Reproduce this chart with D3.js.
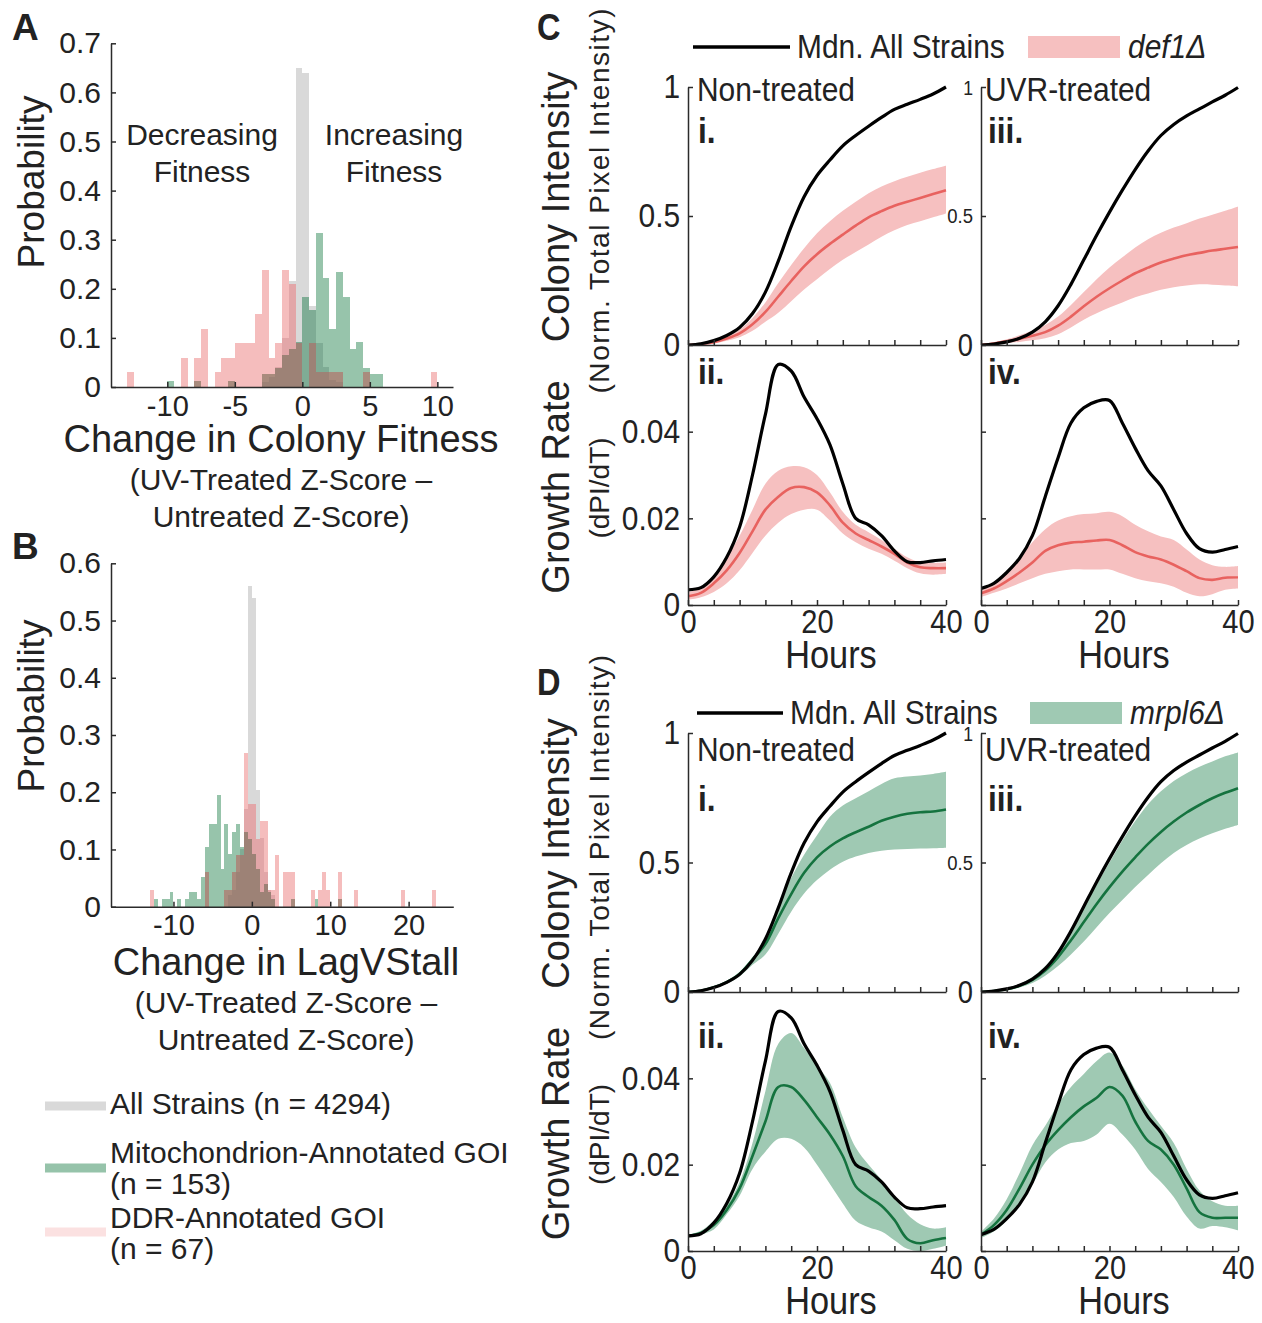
<!DOCTYPE html>
<html>
<head>
<meta charset="utf-8">
<script src="https://cdn.jsdelivr.net/npm/d3@7"></script>
<style>
body { margin: 0; background: #fff; }
svg text { font-family: 'Liberation Sans', Arial, sans-serif; fill: #222; }
</style>
</head>
<body>
<svg id="fig" width="1262" height="1323"></svg>
<script>
// ---------- histogram data (bin start, probability) ----------
var BW = 0.5;
var aAllStart = [-3, -2.5, -2, -1.5, -1, -0.5, 0, 0.5, 1, 1.5, 2, 2.5];
var aAllProb  = [0.01, 0.02, 0.04, 0.10, 0.215, 0.65, 0.64, 0.165, 0.09, 0.04, 0.015, 0.01];
var aMitoStart = [-10, -8, -5.5, -3, -2.5, -2, -1.5, -1, -0.5, 0, 0.5, 1, 1.5, 2, 2.5, 3, 3.5, 4, 4.5, 5, 5.5];
var aMitoProb  = [0.013, 0.013, 0.013, 0.026, 0.026, 0.039, 0.065, 0.078, 0.092, 0.183, 0.157, 0.314, 0.222, 0.118, 0.235, 0.183, 0.078, 0.092, 0.039, 0.026, 0.026];
var aDdrStart = [-13, -9, -8, -7.5, -6.5, -6, -5.5, -5, -4.5, -4, -3.5, -3, -2.5, -2, -1.5, -1, -0.5, 0.5, 1, 1.5, 2, 2.5, 4.5, 9.5];
var aDdrProb  = [0.03, 0.06, 0.06, 0.119, 0.03, 0.06, 0.06, 0.09, 0.09, 0.09, 0.149, 0.239, 0.06, 0.09, 0.239, 0.209, 0.09, 0.09, 0.03, 0.03, 0.03, 0.03, 0.03, 0.03];

var bAllStart = [-3, -2.5, -2, -1.5, -1, -0.5, 0, 0.5, 1, 1.5, 2, 2.5];
var bAllProb  = [0.02, 0.03, 0.06, 0.10, 0.17, 0.56, 0.54, 0.204, 0.12, 0.06, 0.03, 0.02];
var bMitoStart = [-12.5, -11.5, -11, -10.5, -9.5, -8.5, -8, -7.5, -7, -6.5, -6, -5.5, -5, -4.5, -4, -3.5, -3, -2.5, -2, -1.5, -1, -0.5, 0, 0.5, 1, 1.5, 2, 2.5, 5, 8, 11];
var bMitoProb  = [0.013, 0.013, 0.013, 0.026, 0.013, 0.013, 0.026, 0.026, 0.013, 0.052, 0.105, 0.144, 0.144, 0.196, 0.065, 0.144, 0.092, 0.131, 0.144, 0.105, 0.131, 0.118, 0.092, 0.065, 0.026, 0.039, 0.026, 0.013, 0.013, 0.013, 0.013];
var bDdrStart = [-13, -6, -3.5, -3, -2.5, -2, -1.5, -1, -0.5, 0, 0.5, 1, 1.5, 2, 2.5, 3, 4, 4.5, 5, 7.5, 8.5, 9, 9.5, 11, 13, 19, 23];
var bDdrProb  = [0.03, 0.06, 0.03, 0.03, 0.06, 0.09, 0.09, 0.269, 0.179, 0.179, 0.119, 0.149, 0.149, 0.03, 0.03, 0.09, 0.06, 0.06, 0.06, 0.03, 0.03, 0.06, 0.03, 0.06, 0.03, 0.03, 0.03];

// ---------- growth curve data ----------
var hours = [0, 2, 4, 6, 8, 10, 12, 14, 16, 18, 20, 22, 24, 26, 28, 30, 32, 34, 36, 38, 40];

var mdnNTci = [0, 0.005, 0.017, 0.037, 0.068, 0.122, 0.205, 0.325, 0.46, 0.575, 0.657, 0.717, 0.772, 0.812, 0.848, 0.882, 0.913, 0.933, 0.952, 0.973, 1.0];
var mdnUVci = [0, 0.004, 0.012, 0.026, 0.05, 0.09, 0.152, 0.235, 0.33, 0.425, 0.515, 0.6, 0.68, 0.752, 0.812, 0.855, 0.888, 0.915, 0.942, 0.968, 0.998];
var mdnNTgr = [0.0035, 0.004, 0.0065, 0.011, 0.018, 0.030, 0.044, 0.0555, 0.054, 0.048, 0.043, 0.037, 0.028, 0.020, 0.0185, 0.016, 0.0125, 0.010, 0.0098, 0.0102, 0.0105];
var mdnUVgr = [0.0038, 0.005, 0.0075, 0.0108, 0.016, 0.025, 0.034, 0.042, 0.0455, 0.047, 0.0472, 0.042, 0.0362, 0.031, 0.0275, 0.022, 0.0165, 0.013, 0.0122, 0.0128, 0.0135];

var def1NTci   = [0, 0.004, 0.011, 0.025, 0.045, 0.08, 0.128, 0.188, 0.248, 0.305, 0.352, 0.392, 0.428, 0.463, 0.495, 0.519, 0.54, 0.555, 0.57, 0.585, 0.6];
var def1NTciHi = [0.001, 0.006, 0.016, 0.034, 0.06, 0.105, 0.165, 0.24, 0.31, 0.375, 0.433, 0.48, 0.52, 0.555, 0.588, 0.614, 0.635, 0.652, 0.668, 0.682, 0.695];
var def1NTciLo = [0, 0.002, 0.006, 0.016, 0.03, 0.055, 0.09, 0.125, 0.17, 0.215, 0.255, 0.295, 0.33, 0.36, 0.39, 0.42, 0.445, 0.465, 0.48, 0.495, 0.51];
var def1UVci   = [0, 0.006, 0.014, 0.024, 0.036, 0.05, 0.075, 0.11, 0.15, 0.187, 0.22, 0.25, 0.278, 0.3, 0.32, 0.335, 0.348, 0.357, 0.366, 0.373, 0.38];
var def1UVciHi = [0.003, 0.01, 0.022, 0.038, 0.056, 0.078, 0.11, 0.155, 0.205, 0.255, 0.3, 0.34, 0.378, 0.41, 0.435, 0.455, 0.472, 0.49, 0.505, 0.52, 0.537];
var def1UVciLo = [0, 0.003, 0.007, 0.012, 0.018, 0.026, 0.042, 0.068, 0.098, 0.123, 0.145, 0.165, 0.185, 0.2, 0.214, 0.224, 0.231, 0.235, 0.234, 0.231, 0.228];
var def1NTgr   = [0.002, 0.0028, 0.005, 0.008, 0.012, 0.017, 0.022, 0.025, 0.027, 0.0272, 0.026, 0.023, 0.019, 0.0165, 0.015, 0.0135, 0.0118, 0.0098, 0.0087, 0.0085, 0.0085];
var def1NTgrHi = [0.003, 0.004, 0.007, 0.011, 0.016, 0.022, 0.028, 0.031, 0.032, 0.0318, 0.030, 0.026, 0.0215, 0.0185, 0.0168, 0.015, 0.013, 0.011, 0.0098, 0.0097, 0.0098];
var def1NTgrLo = [0.0012, 0.0018, 0.003, 0.005, 0.008, 0.012, 0.016, 0.019, 0.021, 0.022, 0.022, 0.0195, 0.0165, 0.0145, 0.013, 0.0118, 0.0102, 0.0085, 0.0073, 0.007, 0.0072];
var def1UVgr   = [0.0027, 0.0038, 0.0055, 0.0075, 0.0098, 0.0125, 0.0138, 0.0144, 0.0146, 0.0149, 0.015, 0.0138, 0.0122, 0.0112, 0.0105, 0.0093, 0.0078, 0.0062, 0.0058, 0.0063, 0.0064];
var def1UVgrHi = [0.0035, 0.0048, 0.0075, 0.011, 0.0145, 0.0175, 0.0195, 0.0205, 0.021, 0.0212, 0.0215, 0.0205, 0.0185, 0.017, 0.0158, 0.015, 0.0128, 0.0105, 0.0092, 0.0088, 0.009];
var def1UVgrLo = [0.0018, 0.0028, 0.0038, 0.005, 0.0062, 0.0072, 0.0078, 0.0082, 0.0082, 0.0082, 0.0082, 0.0072, 0.0062, 0.0055, 0.005, 0.0042, 0.0028, 0.002, 0.0025, 0.0035, 0.0038];

var mrpl6NTci   = [0, 0.005, 0.018, 0.038, 0.07, 0.125, 0.185, 0.285, 0.378, 0.46, 0.52, 0.562, 0.593, 0.617, 0.638, 0.661, 0.677, 0.688, 0.694, 0.697, 0.705];
var mrpl6NTciHi = [0.001, 0.007, 0.021, 0.043, 0.078, 0.135, 0.205, 0.335, 0.44, 0.53, 0.605, 0.677, 0.72, 0.748, 0.775, 0.803, 0.825, 0.832, 0.836, 0.842, 0.85];
var mrpl6NTciLo = [0, 0.003, 0.014, 0.032, 0.06, 0.105, 0.145, 0.225, 0.31, 0.38, 0.432, 0.472, 0.503, 0.523, 0.537, 0.545, 0.55, 0.552, 0.554, 0.555, 0.557];
var mrpl6UVci   = [0, 0.004, 0.011, 0.024, 0.047, 0.083, 0.135, 0.2, 0.27, 0.34, 0.405, 0.465, 0.52, 0.572, 0.618, 0.658, 0.693, 0.722, 0.748, 0.769, 0.787];
var mrpl6UVciHi = [0.001, 0.006, 0.015, 0.031, 0.058, 0.1, 0.16, 0.235, 0.325, 0.415, 0.5, 0.585, 0.66, 0.725, 0.775, 0.815, 0.845, 0.87, 0.89, 0.91, 0.925];
var mrpl6UVciLo = [0, 0.002, 0.007, 0.017, 0.035, 0.063, 0.1, 0.145, 0.195, 0.25, 0.305, 0.355, 0.405, 0.452, 0.497, 0.537, 0.568, 0.593, 0.613, 0.63, 0.645];
var mrpl6NTgr   = [0.0035, 0.0042, 0.006, 0.0095, 0.0145, 0.022, 0.030, 0.038, 0.038, 0.035, 0.031, 0.027, 0.022, 0.015, 0.0125, 0.0105, 0.0072, 0.0028, 0.0018, 0.0025, 0.003];
var mrpl6NTgrHi = [0.0038, 0.0047, 0.007, 0.0105, 0.016, 0.025, 0.037, 0.048, 0.0505, 0.047, 0.043, 0.039, 0.031, 0.024, 0.02, 0.0165, 0.0125, 0.0085, 0.0062, 0.0052, 0.0055];
var mrpl6NTgrLo = [0.003, 0.0038, 0.005, 0.0085, 0.0128, 0.019, 0.023, 0.026, 0.026, 0.024, 0.020, 0.0155, 0.011, 0.007, 0.0055, 0.0045, 0.0025, 0.0005, 0, 0.0005, 0.0012];
var mrpl6UVgr   = [0.0038, 0.006, 0.0095, 0.0145, 0.02, 0.0245, 0.028, 0.031, 0.0335, 0.0355, 0.038, 0.036, 0.030, 0.0255, 0.0235, 0.02, 0.0145, 0.009, 0.0077, 0.0077, 0.0077];
var mrpl6UVgrHi = [0.0045, 0.0075, 0.012, 0.018, 0.0245, 0.029, 0.034, 0.038, 0.041, 0.044, 0.046, 0.043, 0.0375, 0.033, 0.029, 0.025, 0.019, 0.014, 0.0115, 0.0105, 0.0105];
var mrpl6UVgrLo = [0.003, 0.0045, 0.007, 0.011, 0.0155, 0.0205, 0.0235, 0.025, 0.0255, 0.027, 0.0295, 0.027, 0.0235, 0.019, 0.016, 0.0125, 0.008, 0.0052, 0.0058, 0.0055, 0.0048];

// ---------- drawing ----------
var svg = d3.select("#fig");
var AX = "#2b2b2b";
// fill colours for each combination of overlapping histogram series
var HC = {g: "#d9d9d9", m: "#97c4ab", d: "#f5bdbd", gm: "#7fac95", gd: "#e2a6a8", md: "#a98b7d", gmd: "#9d8276"};

function txt(x, y, s, o) {
  o = o || {};
  var tr = "translate(" + x + "," + y + ")";
  if (o.rot) tr += " rotate(" + o.rot + ")";
  if (o.sx) tr += " scale(" + o.sx + ",1)";
  var t = svg.append("text")
    .attr("transform", tr)
    .attr("font-size", o.size || 30)
    .attr("text-anchor", o.anchor || "start")
    .text(s);
  if (o.bold) t.attr("font-weight", "bold");
  if (o.italic) t.attr("font-style", "italic");
  if (o.len) t.attr("textLength", o.len).attr("lengthAdjust", "spacing");
  return t;
}

function styleAxis(g, size, sx) {
  g.selectAll("path, line").attr("stroke", AX).attr("stroke-width", 1.5);
  g.selectAll("text").attr("fill", "#222").attr("font-size", size)
    .attr("font-family", "'Liberation Sans', Arial, sans-serif");
  if (sx) g.selectAll("text").attr("transform", "scale(" + sx + ",1)");
}

function hist(p) {
  var x = d3.scaleLinear().domain(p.xDomain).range([p.left, p.right]);
  var y = d3.scaleLinear().domain([0, p.yMax]).range([p.bottom, p.top]);
  var bins = new Map();
  function put(starts, vals, key) {
    starts.forEach(function(s, i) {
      var b = bins.get(s) || {s: s, g: 0, m: 0, d: 0};
      b[key] = vals[i];
      bins.set(s, b);
    });
  }
  put(p.gS, p.gV, "g"); put(p.mS, p.mV, "m"); put(p.dS, p.dV, "d");
  var segs = [];
  bins.forEach(function(b) {
    var lv = Array.from(new Set([0, b.g, b.m, b.d])).sort(d3.ascending);
    for (var i = 0; i < lv.length - 1; i++) {
      var hi = lv[i + 1];
      var key = (b.g >= hi ? "g" : "") + (b.m >= hi ? "m" : "") + (b.d >= hi ? "d" : "");
      segs.push({s: b.s, lo: lv[i], hi: hi, key: key});
    }
  });
  svg.append("g").selectAll("rect").data(segs).enter().append("rect")
    .attr("x", function(d) { return x(d.s); })
    .attr("width", function(d) { return x(d.s + BW) - x(d.s); })
    .attr("y", function(d) { return y(d.hi); })
    .attr("height", function(d) { return y(d.lo) - y(d.hi); })
    .attr("fill", function(d) { return HC[d.key]; })
    .attr("shape-rendering", "crispEdges");

  var ya = svg.append("g").attr("transform", "translate(" + p.left + ",0)")
    .call(d3.axisLeft(y).tickValues(p.yTicks).tickSize(-5).tickSizeOuter(0).tickPadding(10)
      .tickFormat(function(d) { return d === 0 ? "0" : d3.format(".1f")(d); }));
  styleAxis(ya, 30);
  var xa = svg.append("g").attr("transform", "translate(0," + p.bottom + ")")
    .call(d3.axisBottom(x).tickValues(p.xTicks).tickSize(-5).tickSizeOuter(0).tickPadding(8)
      .tickFormat(function(d) { return String(d); }));
  styleAxis(xa, 29);
}

hist({left: 111, right: 453, top: 43.3, bottom: 387, xDomain: [-14.17, 11.16], yMax: 0.7,
  yTicks: [0, 0.1, 0.2, 0.3, 0.4, 0.5, 0.6, 0.7], xTicks: [-10, -5, 0, 5, 10],
  gS: aAllStart, gV: aAllProb, mS: aMitoStart, mV: aMitoProb, dS: aDdrStart, dV: aDdrProb});
hist({left: 111, right: 453.3, top: 563.3, bottom: 906.7, xDomain: [-17.97, 25.7], yMax: 0.6,
  yTicks: [0, 0.1, 0.2, 0.3, 0.4, 0.5, 0.6], xTicks: [-10, 0, 10, 20],
  gS: bAllStart, gV: bAllProb, mS: bMitoStart, mV: bMitoProb, dS: bDdrStart, dV: bDdrProb});

// panel A / B text
txt(12, 40, "A", {size: 37, bold: true});
txt(12, 559, "B", {size: 37, bold: true});
txt(44, 182, "Probability", {size: 37, rot: -90, anchor: "middle"});
txt(44, 706, "Probability", {size: 37, rot: -90, anchor: "middle"});
txt(202, 145, "Decreasing", {size: 30, anchor: "middle"});
txt(202, 182, "Fitness", {size: 30, anchor: "middle"});
txt(394, 145, "Increasing", {size: 30, anchor: "middle"});
txt(394, 182, "Fitness", {size: 30, anchor: "middle"});
txt(281, 452, "Change in Colony Fitness", {size: 38, anchor: "middle"});
txt(281, 490, "(UV-Treated Z-Score \u2013", {size: 30, anchor: "middle"});
txt(281, 527, "Untreated Z-Score)", {size: 30, anchor: "middle"});
txt(286, 975, "Change in LagVStall", {size: 38, anchor: "middle"});
txt(286, 1013, "(UV-Treated Z-Score \u2013", {size: 30, anchor: "middle"});
txt(286, 1050, "Untreated Z-Score)", {size: 30, anchor: "middle"});

// histogram legend
var legItems = [
  {c: "#d9d9d9", y: 1106, lines: ["All Strains (n = 4294)"], ty: 1114},
  {c: "#96c3aa", y: 1168, lines: ["Mitochondrion-Annotated GOI", "(n = 153)"], ty: 1163},
  {c: "#fbe1e1", y: 1232, lines: ["DDR-Annotated GOI", "(n = 67)"], ty: 1228}
];
legItems.forEach(function(it) {
  svg.append("line").attr("x1", 45).attr("x2", 106).attr("y1", it.y).attr("y2", it.y)
    .attr("stroke", it.c).attr("stroke-width", 9);
  it.lines.forEach(function(l, i) { txt(110, it.ty + i * 31, l, {size: 30}); });
});

// ---------- growth-curve panels ----------
var SX = 0.88;
var clipN = 0;
function curvePanel(p) {
  var x = d3.scaleLinear().domain([0, 40]).range([p.left, p.right]);
  var y = d3.scaleLinear().domain([0, p.yMax]).range([p.bottom, p.top]);
  var id = "clip" + (clipN++);
  svg.append("clipPath").attr("id", id).append("rect")
    .attr("x", p.left).attr("y", p.top - 3).attr("width", p.right - p.left + 2).attr("height", p.bottom - p.top + 3);
  var curve = d3.curveCatmullRom.alpha(0.5);
  var area = d3.area().curve(curve)
    .x(function(d, i) { return x(hours[i]); })
    .y0(function(d, i) { return y(p.lo[i]); })
    .y1(function(d, i) { return y(p.hi[i]); });
  var line = d3.line().curve(curve)
    .x(function(d, i) { return x(hours[i]); })
    .y(function(d) { return y(d); });
  var g = svg.append("g").attr("clip-path", "url(#" + id + ")");
  g.append("path").datum(p.mean).attr("d", area).attr("fill", p.band);
  g.append("path").datum(p.mean).attr("d", line).attr("fill", "none")
    .attr("stroke", p.color).attr("stroke-width", 2.6);
  g.append("path").datum(p.black).attr("d", line).attr("fill", "none")
    .attr("stroke", "#000").attr("stroke-width", 3.2);

  var ya = svg.append("g").attr("transform", "translate(" + p.left + ",0)")
    .call(d3.axisLeft(y).tickValues(p.yTicks).tickSize(-5).tickSizeOuter(0).tickPadding(9)
      .tickFormat(p.yLabels ? function(d) { return d === 0 ? "0" : String(d); } : ""));
  styleAxis(ya, 34, SX);
  var xa = svg.append("g").attr("transform", "translate(0," + p.bottom + ")")
    .call(d3.axisBottom(x).tickValues([0, 4, 8, 12, 16, 20, 24, 28, 32, 36, 40]).tickSize(-5)
      .tickSizeOuter(0).tickPadding(5)
      .tickFormat(p.xLabels ? function(d) { return d % 20 === 0 ? String(d) : ""; } : ""));
  styleAxis(xa, 33, SX);
  return y;
}

function figure(o) {
  var cols = [
    {left: 688, right: 946, ci: o.ntCi, gr: o.ntGr, blackCi: mdnNTci, blackGr: mdnNTgr, labels: true},
    {left: 981, right: 1238, ci: o.uvCi, gr: o.uvGr, blackCi: mdnUVci, blackGr: mdnUVgr, labels: false}
  ];
  cols.forEach(function(c) {
    var yci = curvePanel({left: c.left, right: c.right, top: o.top, bottom: o.mid, yMax: 1,
      mean: c.ci[0], lo: c.ci[1], hi: c.ci[2], black: c.blackCi, band: o.band, color: o.color,
      yTicks: [0, 0.5, 1], yLabels: c.labels, xLabels: false});
    curvePanel({left: c.left, right: c.right, top: o.mid, bottom: o.bottom, yMax: 0.06,
      mean: c.gr[0], lo: c.gr[1], hi: c.gr[2], black: c.blackGr, band: o.band, color: o.color,
      yTicks: [0, 0.02, 0.04], yLabels: c.labels, xLabels: true});
    if (!c.labels) {
      txt(c.left - 8, yci(1) + 8, "1", {size: 20, anchor: "end", sx: SX});
      txt(c.left - 8, yci(0.5) + 7, "0.5", {size: 21, anchor: "end", sx: SX});
      txt(c.left - 8, yci(0) + 11, "0", {size: 31, anchor: "end", sx: SX});
    }
    txt(c.left + 143, o.bottom + 63, "Hours", {size: 39, anchor: "middle", sx: SX});
  });
  // legend
  svg.append("line").attr("x1", o.legX[0]).attr("x2", o.legX[1]).attr("y1", o.legY).attr("y2", o.legY)
    .attr("stroke", "#000").attr("stroke-width", 3.5);
  txt(o.legX[1] + 7, o.legY + 11, "Mdn. All Strains", {size: 34, sx: SX});
  svg.append("rect").attr("x", o.rectX).attr("y", o.legY - 11).attr("width", 92).attr("height", 22)
    .attr("fill", o.band);
  txt(o.rectX + 100, o.legY + 11, o.gene, {size: 34, sx: SX, italic: true});
  // annotations
  txt(537, o.letterY, o.letter, {size: 37, bold: true, sx: SX});
  txt(697, o.treatY, "Non-treated", {size: 34, sx: SX});
  txt(985, o.treatY, "UVR-treated", {size: 34, sx: SX});
  txt(698, o.romY1, "i.", {size: 36, bold: true, sx: SX});
  txt(988, o.romY1, "iii.", {size: 36, bold: true, sx: SX});
  txt(698, o.romY2, "ii.", {size: 36, bold: true, sx: SX});
  txt(988, o.romY2, "iv.", {size: 36, bold: true, sx: SX});
  txt(569, (o.top + o.mid) / 2 - 9, "Colony Intensity", {size: 38, rot: -90, anchor: "middle"});
  txt(609, (o.top + o.mid) / 2 - 15, "(Norm. Total Pixel Intensity)", {size: 28, rot: -90, anchor: "middle", len: 385});
  txt(569, (o.mid + o.bottom) / 2 + 12, "Growth Rate", {size: 38, rot: -90, anchor: "middle"});
  txt(609, (o.mid + o.bottom) / 2 + 13, "(dPI/dT)", {size: 28, rot: -90, anchor: "middle"});
}

figure({top: 87, mid: 345, bottom: 605, band: "#f6c0c0", color: "#e8625f", gene: "def1\u0394",
  ntCi: [def1NTci, def1NTciLo, def1NTciHi], uvCi: [def1UVci, def1UVciLo, def1UVciHi],
  ntGr: [def1NTgr, def1NTgrLo, def1NTgrHi], uvGr: [def1UVgr, def1UVgrLo, def1UVgrHi],
  legX: [693, 790], legY: 47, rectX: 1028, letter: "C", letterY: 40, treatY: 101, romY1: 143, romY2: 384});
figure({top: 733, mid: 992, bottom: 1251, band: "#9fc9b3", color: "#15733f", gene: "mrpl6\u0394",
  ntCi: [mrpl6NTci, mrpl6NTciLo, mrpl6NTciHi], uvCi: [mrpl6UVci, mrpl6UVciLo, mrpl6UVciHi],
  ntGr: [mrpl6NTgr, mrpl6NTgrLo, mrpl6NTgrHi], uvGr: [mrpl6UVgr, mrpl6UVgrLo, mrpl6UVgrHi],
  legX: [697, 783], legY: 713, rectX: 1030, letter: "D", letterY: 695, treatY: 761, romY1: 811, romY2: 1048});
</script>
</body>
</html>
